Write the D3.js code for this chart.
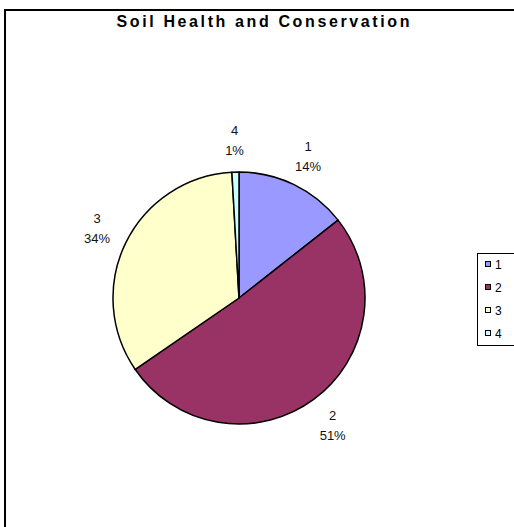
<!DOCTYPE html>
<html>
<head>
<meta charset="utf-8">
<script src="https://cdn.jsdelivr.net/npm/d3@7"></script>
<style>
  html, body { margin: 0; padding: 0; background: #fff; }
  svg { display: block; font-family: "Liberation Sans", Arial, sans-serif; }
</style>
</head>
<body>
<svg id="chart" width="514" height="527"></svg>
<script>
// Survey categories and their share of responses (percent)
const categories = ["1", "2", "3", "4"];
const values = [14.4, 51.0, 33.7, 0.9];
const colors = ["#9999FF", "#993366", "#FFFFCC", "#CCFFFF"];
const title = "Soil Health and Conservation";

const svg = d3.select("#chart");
const W = 514, H = 527;

// Chart frame (runs past the right and bottom edges of the page)
svg.append("rect")
  .attr("x", 5).attr("y", 10)
  .attr("width", W + 10).attr("height", H + 10)
  .attr("fill", "#fff")
  .attr("stroke", "#000")
  .attr("stroke-width", 2);

// Title
const t = svg.append("text")
  .attr("x", 263).attr("y", 27)
  .attr("text-anchor", "middle")
  .attr("font-size", 16)
  .attr("font-weight", "bold")
  .attr("fill", "#000")
  .text(title);
t.attr("textLength", 293).attr("lengthAdjust", "spacing");

// Pie
const cx = 239, cy = 298, R = 126;
const pie = d3.pie().sort(null).value(d => d.value)
  .startAngle(0).endAngle(2 * Math.PI);
const data = categories.map((c, i) => ({ cat: c, value: values[i], color: colors[i] }));
const arcs = pie(data);
const total = d3.sum(values);
const arc = d3.arc().innerRadius(0).outerRadius(R);

const g = svg.append("g").attr("transform", `translate(${cx},${cy})`);
g.selectAll("path.slice")
  .data(arcs)
  .join("path")
  .attr("class", "slice")
  .attr("d", arc)
  .attr("fill", d => d.data.color)
  .attr("stroke", "#000")
  .attr("stroke-width", 1.5)
  .attr("stroke-linejoin", "round");

// Category / percentage labels outside each slice
const labelArc = d3.arc().innerRadius(158).outerRadius(158);
const fmt = d3.format(".0%");
const lbl = g.selectAll("g.lbl")
  .data(arcs)
  .join("g")
  .attr("class", "lbl")
  .attr("transform", d => `translate(${labelArc.centroid(d)})`);
lbl.append("text")
  .attr("text-anchor", "middle")
  .attr("y", -5)
  .attr("font-size", 13)
  .attr("fill", "#111")
  .text(d => d.data.cat);
lbl.append("text")
  .attr("text-anchor", "middle")
  .attr("y", 15)
  .attr("font-size", 13)
  .attr("fill", "#111")
  .text(d => fmt(d.data.value / total));

// Legend
const lg = svg.append("g");
lg.append("rect")
  .attr("x", 477.5).attr("y", 253.5)
  .attr("width", 60).attr("height", 92)
  .attr("fill", "#fff")
  .attr("stroke", "#000")
  .attr("stroke-width", 1);
const ly = d3.scalePoint().domain(categories).range([264, 333]);
const items = lg.selectAll("g.item")
  .data(data)
  .join("g")
  .attr("class", "item")
  .attr("transform", d => `translate(0,${ly(d.cat)})`);
items.append("rect")
  .attr("x", 485.5).attr("y", -2.5)
  .attr("width", 5).attr("height", 5)
  .attr("fill", d => d.color)
  .attr("stroke", "#000")
  .attr("stroke-width", 1);
items.append("text")
  .attr("x", 495).attr("y", 4.5)
  .attr("font-size", 12)
  .attr("fill", "#000")
  .text(d => d.cat);
</script>
</body>
</html>
